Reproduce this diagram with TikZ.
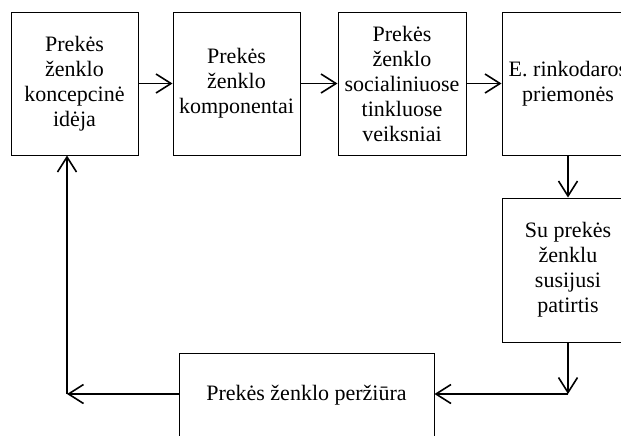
\documentclass[tikz,border=0pt]{standalone}
\usepackage{fontspec}
\setmainfont{Liberation Serif}
\usetikzlibrary{arrows.meta}

\begin{document}
\begin{tikzpicture}[x=0.5pt, y=-0.5pt,
  box/.style={draw, line width=0.5pt, align=center, inner sep=0pt,
    minimum width=63.5pt, minimum height=71.5pt,
    font=\fontsize{11}{12.5}\selectfont},
  flow/.style={-{Straight Barb[length=7.5pt,width=9.5pt]}, line width=0.8pt}]

% Fix the page size
\useasboundingbox (0,0) rectangle (621,435);
\clip (0,0) rectangle (621,435);

% Top row
\node[box] (idea) at (74.5,83.5) {Prekės\\ženklo\\koncepcinė\\idėja};
\node[box] (parts) at (236.5,83.5) {Prekės\\ženklo\\komponentai};
\node[box, minimum width=64pt] (social) at (402,83.5) {Prekės\\ženklo\\socialiniuose\\tinkluose\\veiksniai};
\node[box, minimum width=66pt] (tools) at (568,83.5) {E. rinkodaros\\priemonės};

% Right column and bottom box
\node[box, minimum width=66pt, minimum height=72pt] (exp) at (568,270) {Su prekės\\ženklu\\susijusi\\patirtis};
\node[box, minimum width=127.5pt, minimum height=42pt] (review) at (306.5,395) {Prekės ženklo peržiūra};

% Corners of the loop
\coordinate (rcorner) at (568,394);
\coordinate (lcorner) at (67,394);

% Arrows
\draw[flow] (idea) -- (parts);
\draw[flow] (parts) -- (social);
\draw[flow] (social) -- (tools);
\draw[flow] (tools) -- (exp);
\draw[flow] (exp) -- (rcorner);
\draw[flow] (rcorner) -- (review.east |- rcorner);
\draw[flow] (review.west |- lcorner) -- (lcorner);
\draw[flow] (lcorner) -- (lcorner |- idea.south);

\end{tikzpicture}
\end{document}
